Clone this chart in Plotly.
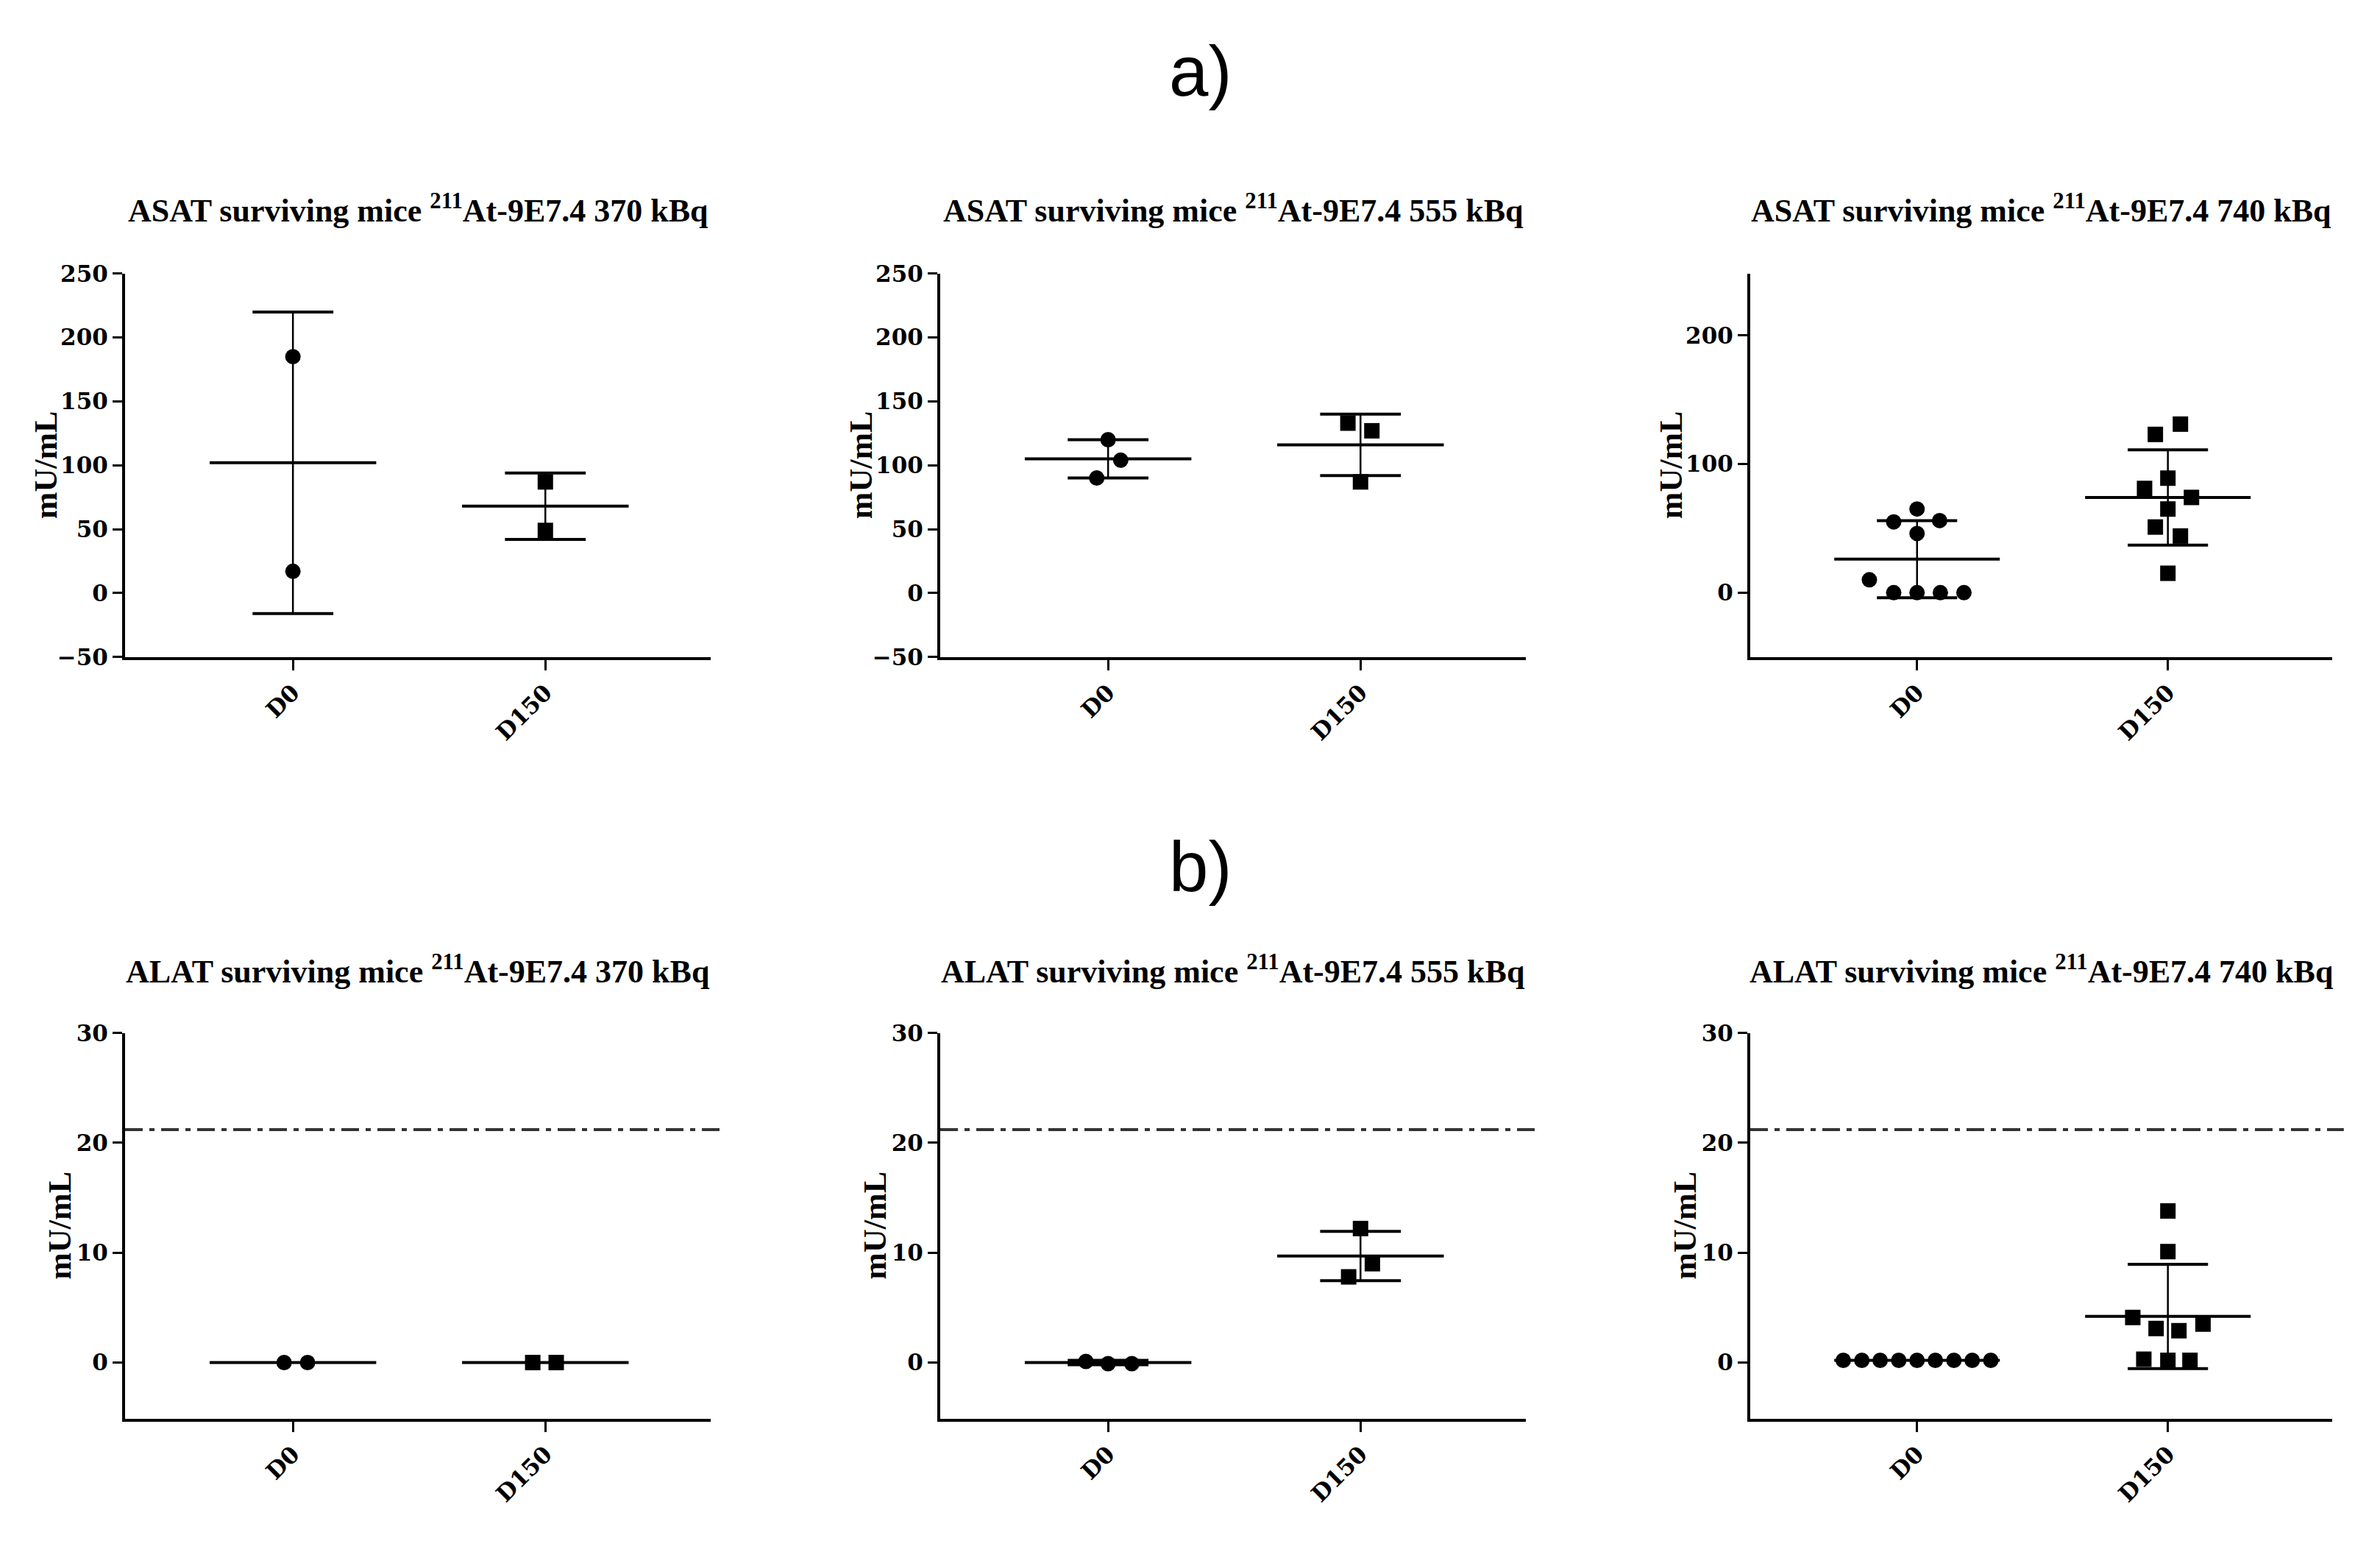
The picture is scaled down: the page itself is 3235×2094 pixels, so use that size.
import plotly.graph_objects as go
from plotly.subplots import make_subplots

groups = ['D0', 'D150']

# ASAT (row a), mU/mL
asat_370_d0 = [185, 17]
asat_370_d150 = [87, 49]
asat_370_mean = [102, 68]
asat_370_sd = [118, 26]

asat_555_d0 = [120, 104, 90]
asat_555_d150 = [133, 127, 87]
asat_555_mean = [105, 116]
asat_555_sd = [15, 24]

asat_740_d0 = [65, 56, 55, 46, 10, 0, 0, 0, 0]
asat_740_d150 = [131, 123, 89, 81, 74, 65, 51, 44, 15]
asat_740_mean = [26, 74]
asat_740_sd = [30, 37]

# ALAT (row b)
alat_370_d0 = [0, 0]
alat_370_d150 = [0, 0]
alat_370_mean = [0, 0]
alat_370_sd = [0, 0]

alat_555_d0 = [0.1, -0.1, -0.1]
alat_555_d150 = [12.2, 9.0, 7.8]
alat_555_mean = [0, 9.7]
alat_555_sd = [0.2, 2.25]

alat_740_d0 = [0.2, 0.2, 0.2, 0.2, 0.2, 0.2, 0.2, 0.2, 0.2]
alat_740_d150 = [13.8, 10.1, 4.1, 3.1, 2.9, 3.5, 0.3, 0.2, 0.2]
alat_740_mean = [0.2, 4.2]
alat_740_sd = [0, 4.75]

alat_ref = 21.2

# horizontal scatter of the points (category units)
jit_asat_370 = ([0, 0], [0, 0])
jit_asat_555 = ([0, 0.05, -0.045], [-0.05, 0.045, 0])
jit_asat_740 = ([0, 0.09, -0.093, 0, -0.19, -0.093, 0, 0.093, 0.187],
                [0.05, -0.05, 0, -0.093, 0.094, 0, -0.05, 0.05, 0])
jit_alat_370 = ([-0.035, 0.058], [-0.05, 0.043])
jit_alat_555 = ([-0.088, 0, 0.094], [0, 0.047, -0.047])
jit_alat_740 = ([-0.294, -0.22, -0.147, -0.073, 0, 0.073, 0.147, 0.22, 0.294],
                [0, 0, -0.14, -0.047, 0.044, 0.14, -0.096, 0, 0.088])

titles = ['ASAT surviving mice <sup>211</sup>At-9E7.4 370 kBq',
          'ASAT surviving mice <sup>211</sup>At-9E7.4 555 kBq',
          'ASAT surviving mice <sup>211</sup>At-9E7.4 740 kBq',
          'ALAT surviving mice <sup>211</sup>At-9E7.4 370 kBq',
          'ALAT surviving mice <sup>211</sup>At-9E7.4 555 kBq',
          'ALAT surviving mice <sup>211</sup>At-9E7.4 740 kBq']

panels = [
    (asat_370_d0, asat_370_d150, asat_370_mean, asat_370_sd, jit_asat_370),
    (asat_555_d0, asat_555_d150, asat_555_mean, asat_555_sd, jit_asat_555),
    (asat_740_d0, asat_740_d150, asat_740_mean, asat_740_sd, jit_asat_740),
    (alat_370_d0, alat_370_d150, alat_370_mean, alat_370_sd, jit_alat_370),
    (alat_555_d0, alat_555_d150, alat_555_mean, alat_555_sd, jit_alat_555),
    (alat_740_d0, alat_740_d150, alat_740_mean, alat_740_sd, jit_alat_740),
]

W, H = 3235, 2094
col_px = [(170, 966), (1278, 2074), (2379, 3170)]
row_px = [(360, 890), (1410, 1943)]

fig = make_subplots(rows=2, cols=3)

MEAN_HW = 0.33
CAP_HW = 0.16
symbols = ['circle', 'square']

for i, (d0, d150, mean, sd, jit) in enumerate(panels):
    r, c = i // 3 + 1, i % 3 + 1
    for g, vals in enumerate([d0, d150]):
        pos = g + 1
        m, s = mean[g], sd[g]
        # mean line
        fig.add_trace(go.Scatter(x=[pos - MEAN_HW, pos + MEAN_HW], y=[m, m], mode='lines',
                                 line=dict(color='black', width=4)), row=r, col=c)
        # SD bar with caps
        if s > 0:
            fig.add_trace(go.Scatter(x=[pos, pos], y=[m - s, m + s], mode='lines',
                                     line=dict(color='black', width=2.5)), row=r, col=c)
            fig.add_trace(go.Scatter(x=[pos - CAP_HW, pos + CAP_HW, None, pos - CAP_HW, pos + CAP_HW],
                                     y=[m + s, m + s, None, m - s, m - s], mode='lines',
                                     line=dict(color='black', width=4)), row=r, col=c)
        fig.add_trace(go.Scatter(x=[pos + j for j in jit[g]], y=vals, mode='markers',
                                 marker=dict(symbol=symbols[g], size=21, color='black')),
                      row=r, col=c)

tick_font = dict(family='DejaVu Serif', size=31, color='black', weight='bold')
label_font = dict(family='Liberation Serif', size=44, color='black', weight='bold')
annotations = []
for i in range(6):
    r, c = i // 3, i % 3
    x0, x1 = col_px[c]
    y0, y1 = row_px[r]
    ax = '' if i == 0 else str(i + 1)
    fig.layout[f'xaxis{ax}'].update(
        domain=[x0 / W, x1 / W], range=[0.335, 2.655],
        tickvals=[1, 2], ticktext=groups, tickangle=-45,
        showline=True, linecolor='black', linewidth=4,
        ticks='outside', ticklen=14, tickwidth=3, tickcolor='black',
        showgrid=False, zeroline=False, tickfont=tick_font)
    if r == 0:
        if c == 2:
            yr, yt = [-50, 248], [0, 100, 200]
        else:
            yr, yt = [-50, 250], [-50, 0, 50, 100, 150, 200, 250]
    else:
        yr, yt = [-5.1, 30], [0, 10, 20, 30]
    fig.layout[f'yaxis{ax}'].update(
        domain=[1 - y1 / H, 1 - y0 / H], range=yr, tickvals=yt,
        showline=True, linecolor='black', linewidth=4,
        ticks='outside', ticklen=13, tickwidth=3, tickcolor='black',
        showgrid=False, zeroline=False, tickfont=tick_font)
    if r == 1:
        fig.add_shape(type='line', xref=f'x{ax} domain', yref=f'y{ax}',
                      x0=0, x1=1.02, y0=alat_ref, y1=alat_ref,
                      line=dict(color='#333333', width=4, dash='24px,9px,7px,9px'))
    # panel title
    ty = 270 if r == 0 else 1322
    annotations.append(dict(text=titles[i], x=(x0 + x1) / 2 / W, y=1 - ty / H,
                            xref='paper', yref='paper', showarrow=False,
                            xanchor='center', yanchor='middle', font=label_font))
    # y axis title
    lx = x0 - (108 if r == 0 else 88)
    annotations.append(dict(text='mU/mL', x=lx / W, y=1 - (y0 + y1) / 2 / H,
                            xref='paper', yref='paper', showarrow=False, textangle=-90,
                            xanchor='center', yanchor='middle', font=label_font))

for lab, ly in [('a)', 80), ('b)', 1180)]:
    annotations.append(dict(text=lab, x=1631 / W, y=1 - ly / H, xref='paper', yref='paper',
                            showarrow=False, xanchor='center', yanchor='middle',
                            font=dict(family='Liberation Sans', size=96, color='black')))

fig.update_layout(width=W, height=H, margin=dict(l=0, r=0, t=0, b=0),
                  paper_bgcolor='white', plot_bgcolor='white',
                  showlegend=False, annotations=annotations)

fig.write_html('out.html', config={'displayModeBar': False},
               post_script="document.body.style.margin='0';")
